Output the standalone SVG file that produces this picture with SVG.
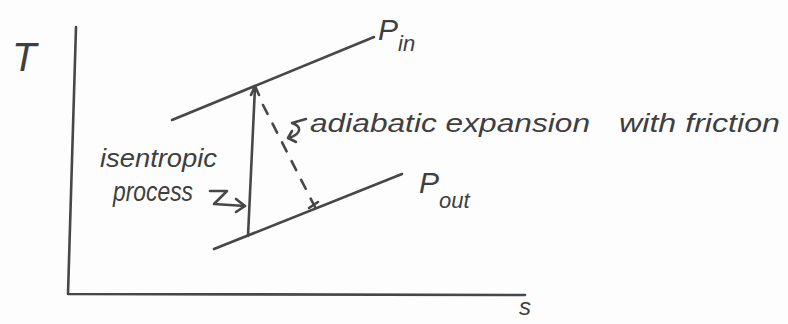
<svg xmlns="http://www.w3.org/2000/svg" width="788" height="324" viewBox="0 0 788 324">
<style>
.ln{fill:none;stroke:#474747;stroke-width:2.6;stroke-linecap:round;stroke-linejoin:round}
.dash{fill:none;stroke:#474747;stroke-width:2.6;stroke-dasharray:10 11;stroke-linecap:round}
.t{font-family:"Liberation Sans",Arial,sans-serif;font-style:italic;fill:#3f3f3f}
</style>
<rect width="788" height="324" fill="#fdfdfd"/>
<g id="axes">
<path class="ln" d="M76,27 L68,294 L525,295"/>
<text class="t" x="12" y="71" font-size="40">T</text>
<text class="t" x="519" y="315" font-size="24">s</text>
</g>
<g id="p-in">
<path class="ln" d="M172,120 L374,37"/>
<text class="t" x="378" y="40" font-size="30">P<tspan font-size="22" dy="11">in</tspan></text>
</g>
<g id="p-out">
<path class="ln" d="M214,249 L402,174"/>
<text class="t" x="419" y="193" font-size="30">P<tspan font-size="22" dy="15">out</tspan></text>
</g>
<g id="connectors">
<path class="ln" d="M248,236 L255,87"/>
<path class="ln" d="M251,95 L255,86 L259,95"/>
<path class="dash" d="M263,105 L315,207"/>
<path class="ln" d="M309,208 L318,202"/>
<path class="ln" d="M210,191 L227,191 L214,204 L245,206"/>
<path class="ln" d="M236,199 L245,206 L236,212"/>
<path class="ln" d="M306,119 L292,123 C301,126 303,133 289,138"/>
<path class="ln" d="M292,131 L288,138 L296,142"/>
</g>
<g id="labels">
<text class="t" x="310" y="132" font-size="26" textLength="280" lengthAdjust="spacingAndGlyphs">adiabatic expansion</text>
<text class="t" x="619" y="132" font-size="26" textLength="161" lengthAdjust="spacingAndGlyphs">with friction</text>
<text class="t" x="100" y="167" font-size="26" textLength="117" lengthAdjust="spacingAndGlyphs">isentropic</text>
<text class="t" x="113" y="201" font-size="28" textLength="80" lengthAdjust="spacingAndGlyphs">process</text>
</g>
</svg>
